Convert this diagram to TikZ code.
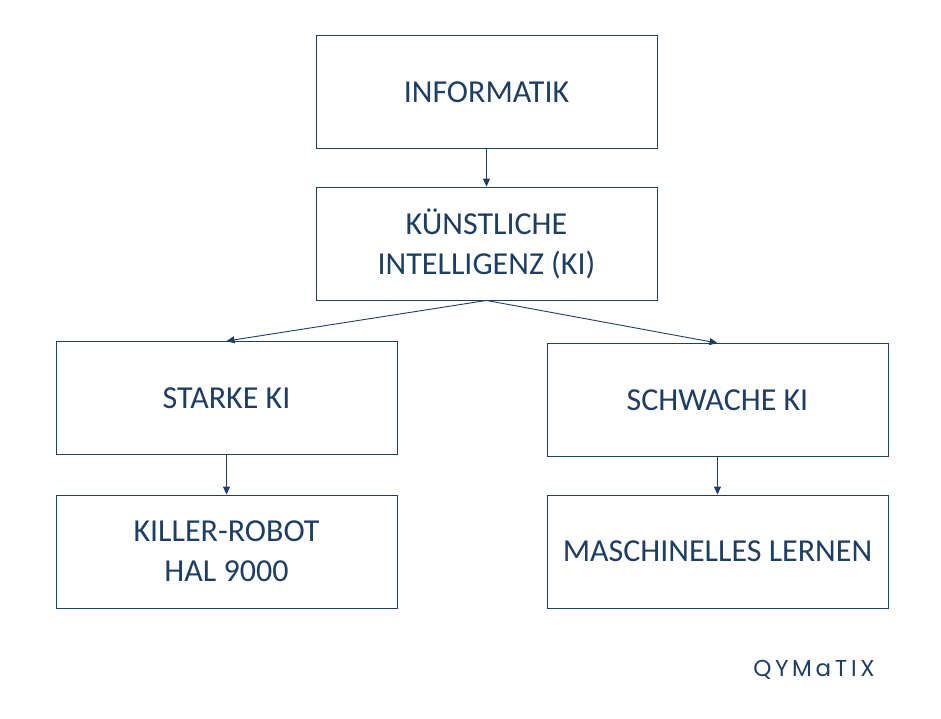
\documentclass[tikz,border=0pt]{standalone}
\usepackage{fontspec}
\setmainfont{Carlito}
\newfontfamily\logofont[LetterSpace=16]{Poppins}
\usetikzlibrary{arrows.meta}
\definecolor{ink}{HTML}{1F3E64}
\begin{document}
\begin{tikzpicture}[x=1pt,y=-1pt,
  box/.style={draw=ink,line width=0.9pt,minimum width=341pt,minimum height=113pt,inner sep=0pt,
    text=ink,align=center,font=\fontsize{32}{40}\selectfont},
  conn/.style={draw=ink,line width=0.9pt,-{Triangle[length=8pt,width=7pt]}}]
\useasboundingbox (0,0) rectangle (941,718);
\fill[white] (0,0) rectangle (941,718);
\node[box] (inf) at (486.5,92) {INFORMATIK};
\node[box] (ki) at (486.5,243.5) {KÜNSTLICHE\\INTELLIGENZ (KI)};
\node[box] (stark) at (226.5,398) {STARKE KI};
\node[box] (schwach) at (717.5,400) {SCHWACHE KI};
\node[box] (killer) at (226.5,551.5) {KILLER-ROBOT\\HAL 9000};
\node[box] (ml) at (717.5,551.5) {MASCHINELLES LERNEN};
\draw[conn] (inf.south) -- (ki.north);
\draw[conn] (ki.south) -- (stark.north);
\draw[conn] (ki.south) -- (schwach.north);
\draw[conn] (stark.south) -- (killer.north);
\draw[conn] (schwach.south) -- (ml.north);
\node[text=ink,font=\logofont\fontsize{23}{26}\selectfont,inner sep=0pt] (logo) at (814,670) {QYMaTIX};
\end{tikzpicture}
\end{document}
